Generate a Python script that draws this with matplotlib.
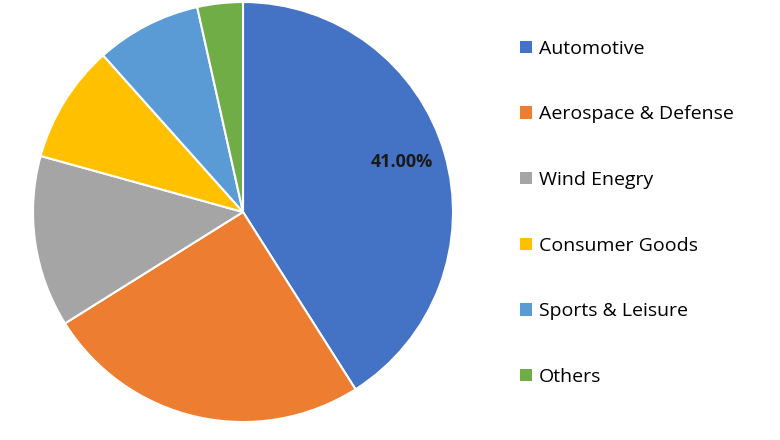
import matplotlib
matplotlib.use("Agg")
import matplotlib.pyplot as plt
from matplotlib.patches import Patch

segments = ["Automotive", "Aerospace & Defense", "Wind Enegry", "Consumer Goods",
            "Sports & Leisure", "Others"]
shares = [41.0, 25.1, 13.2, 9.1, 8.1, 3.5]
colors = ["#4472C4", "#ED7D31", "#A5A5A5", "#FFC000", "#5B9BD5", "#70AD47"]

plt.rcParams['font.family'] = ['Open Sans', 'DejaVu Sans']

fig = plt.figure(figsize=(7.8, 4.4), dpi=100)
ax = fig.add_axes([33 / 780, 18 / 440, 420 / 780, 420 / 440])


def pct_label(p):
    # only the biggest slice is labelled
    if p > 40:
        return "41.00%"
    return ""


wedges, texts, autotexts = ax.pie(shares, colors=colors, startangle=90, counterclock=False,
                                  autopct=pct_label, pctdistance=0.79,
                                  wedgeprops=dict(edgecolor="white", linewidth=1.5))
for t in autotexts:
    t.set_fontsize(13)
    t.set_fontweight("bold")
    t.set_color("#1a1a1a")
    x, y = t.get_position()
    t.set_position((x, y + 0.02))
ax.set_xlim(-1, 1)
ax.set_ylim(-1, 1)
ax.set_aspect("equal")

handles = [Patch(facecolor=c, edgecolor="none") for c in colors]
fig.legend(handles, segments, loc="upper left", bbox_to_anchor=(0.667, 0.9095),
           frameon=False, fontsize=14, handlelength=0.6, handleheight=0.6,
           handletextpad=0.35, labelspacing=2.45, borderpad=0, borderaxespad=0)

fig.savefig("out.png", dpi=100)
